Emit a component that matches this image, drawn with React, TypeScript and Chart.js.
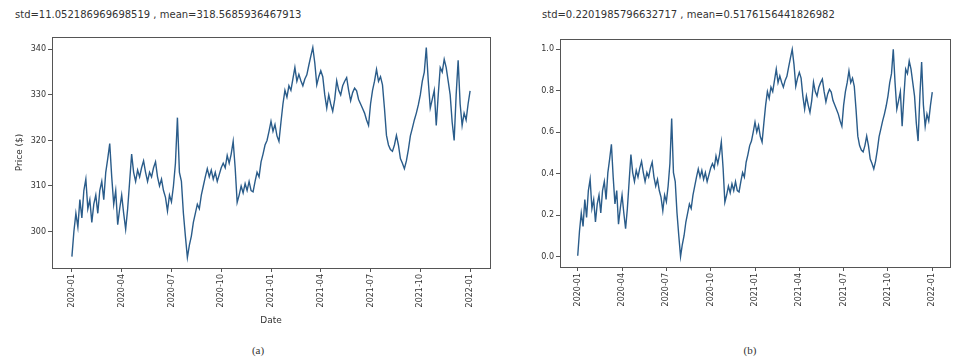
import { useEffect, useRef } from "react";
import { Chart, registerables } from "chart.js";
Chart.register(...registerables);

// Closing prices, one sample roughly every few trading days
const priceValues: number[] = [
  294.5, 300, 304, 301, 307, 303, 309, 311.5, 305, 307,
  302, 306, 308, 304, 309, 311, 307, 313, 316, 319.3,
  312, 306, 309, 301.5, 305, 308, 304, 300.5, 305, 311,
  317, 313, 311, 313.5, 312, 314, 315.5, 313, 311, 313,
  312, 314, 315.3, 312, 310, 311.5, 309, 307.5, 304.5, 308,
  306.5, 310, 315, 325, 313, 311, 304, 299, 294.3, 297,
  299, 302, 304, 306, 305, 308, 310, 312, 313.8, 312,
  313.5, 311.5, 313, 311, 312.5, 314, 315, 314, 316.7, 315,
  317, 319.8, 314, 306.4, 308, 310, 308.5, 310.5, 309, 311,
  309, 308.7, 311, 313, 312, 315.3, 317, 319, 320, 322,
  324.2, 322, 323.5, 321, 319.8, 324, 328, 331, 329.5, 332,
  331, 333.5, 336, 333, 334.5, 333.1, 332, 333.5, 334.4, 336.5,
  338.5, 340.4, 337, 332.2, 334, 335.3, 334, 330, 327.1, 330,
  328, 326.4, 329, 333.1, 331, 330, 332, 333, 333.8, 331,
  328.7, 330.5, 331.5, 330.9, 329, 328, 327, 326, 324.5, 323.3,
  328, 331, 333, 335.6, 333, 334, 332.2, 327, 321.1, 319,
  318, 317.6, 319, 321.1, 319, 316, 315, 313.8, 315.5, 318,
  321, 322.7, 324.5, 326, 327.8, 330, 333, 335, 340.4, 333,
  327.1, 329, 331, 323.3, 330, 336, 335, 337.8, 336, 333,
  330, 324, 320, 330, 337.6, 328, 323.3, 326, 324.5, 328,
  330.9,
];

const xTickPositions: number[] = [0, 25, 50, 75, 100, 125, 150, 175, 200];
const xTickLabels: string[] = [
  "2020-01", "2020-04", "2020-07", "2020-10", "2021-01",
  "2021-04", "2021-07", "2021-10", "2022-01",
];
const priceTicks: number[] = [300, 310, 320, 330, 340];
const normTicks: number[] = [0, 0.2, 0.4, 0.6, 0.8, 1.0];

const titleA = "std=11.052186969698519 , mean=318.5685936467913";
const titleB = "std=0.2201985796632717 , mean=0.5176156441826982";

const minP = Math.min(...priceValues);
const maxP = Math.max(...priceValues);
const normValues = priceValues.map((v) => (v - minP) / (maxP - minP));

const LINE_COLOR = "#2a5c8a";
const AXIS_COLOR = "#555555";
const TEXT_COLOR = "#333333";
const FONT = "'DejaVu Sans', sans-serif";

const framePlugin = {
  id: "frame",
  afterDraw(chart: any) {
    const { ctx, chartArea } = chart;
    const { left, top, right, bottom } = chartArea;
    ctx.save();
    ctx.strokeStyle = AXIS_COLOR;
    ctx.lineWidth = 1;
    ctx.strokeRect(Math.round(left) + 0.5, Math.round(top) + 0.5, Math.round(right - left), Math.round(bottom - top));
    ctx.restore();
  },
};

type Cfg = {
  values: number[];
  yMin: number;
  yMax: number;
  yTicks: number[];
  yFmt: (v: number) => string;
  yTitle?: string;
  xTitle?: string;
  padTop: number;
  padRight: number;
  yWidth: number;
  xHeight: number;
};

function makeConfig(c: Cfg): any {
  return {
    type: "line",
    data: {
      datasets: [
        {
          data: c.values.map((v, i) => ({ x: i, y: v })),
          borderColor: LINE_COLOR,
          borderWidth: 1.4,
          pointRadius: 0,
          tension: 0,
          fill: false,
        },
      ],
    },
    options: {
      animation: false,
      responsive: false,
      devicePixelRatio: 1,
      layout: { padding: { top: c.padTop, right: c.padRight, left: 0, bottom: 0 } },
      plugins: { legend: { display: false }, tooltip: { enabled: false }, title: { display: false } },
      scales: {
        x: {
          type: "linear",
          min: -10,
          max: 210,
          afterBuildTicks: (s: any) => {
            s.ticks = xTickPositions.map((v) => ({ value: v }));
          },
          afterFit: (s: any) => {
            s.height = c.xHeight;
          },
          ticks: {
            autoSkip: false,
            minRotation: 90,
            maxRotation: 90,
            padding: 2,
            color: TEXT_COLOR,
            font: { family: FONT, size: 8 },
            callback: (v: number) => {
              const k = xTickPositions.indexOf(v);
              return k >= 0 ? xTickLabels[k] : "";
            },
          },
          grid: { display: true, drawOnChartArea: false, drawTicks: true, tickLength: 4, color: AXIS_COLOR },
          border: { display: true, color: AXIS_COLOR },
          title: {
            display: !!c.xTitle,
            text: c.xTitle || "",
            color: TEXT_COLOR,
            font: { family: FONT, size: 9 },
            padding: { top: 0, bottom: 4 },
          },
        },
        y: {
          type: "linear",
          min: c.yMin,
          max: c.yMax,
          afterBuildTicks: (s: any) => {
            s.ticks = c.yTicks.map((v) => ({ value: v }));
          },
          afterFit: (s: any) => {
            s.width = c.yWidth;
          },
          ticks: {
            padding: 2,
            color: TEXT_COLOR,
            font: { family: FONT, size: 8 },
            callback: (v: number) => c.yFmt(v),
          },
          grid: { display: true, drawOnChartArea: false, drawTicks: true, tickLength: 4, color: AXIS_COLOR },
          border: { display: true, color: AXIS_COLOR },
          title: {
            display: !!c.yTitle,
            text: c.yTitle || "",
            color: TEXT_COLOR,
            font: { family: FONT, size: 9 },
            padding: { top: 14, bottom: 0 },
          },
        },
      },
    },
    plugins: [framePlugin],
  };
}

export default function App() {
  const refA = useRef<HTMLCanvasElement | null>(null);
  const refB = useRef<HTMLCanvasElement | null>(null);

  useEffect(() => {
    const range = maxP - minP;
    const chartA = new Chart(
      refA.current as HTMLCanvasElement,
      makeConfig({
        values: priceValues,
        yMin: minP - 0.05 * range,
        yMax: maxP + 0.05 * range,
        yTicks: priceTicks,
        yFmt: (v) => String(v),
        yTitle: "Price ($)",
        xTitle: "Date",
        padTop: 37,
        padRight: 5,
        yWidth: 52,
        xHeight: 62,
      })
    );
    const chartB = new Chart(
      refB.current as HTMLCanvasElement,
      makeConfig({
        values: normValues,
        yMin: -0.05,
        yMax: 1.05,
        yTicks: normTicks,
        yFmt: (v) => v.toFixed(1),
        padTop: 39,
        padRight: 5,
        yWidth: 65,
        xHeight: 63,
      })
    );
    return () => {
      chartA.destroy();
      chartB.destroy();
    };
  }, []);

  const textStyle: any = {
    position: "absolute",
    fontFamily: FONT,
    fontSize: 10,
    color: TEXT_COLOR,
    whiteSpace: "nowrap",
    lineHeight: "12px",
  };
  const capStyle: any = {
    position: "absolute",
    fontFamily: "'Liberation Serif', serif",
    fontSize: 11,
    color: TEXT_COLOR,
    lineHeight: "12px",
    transform: "translateX(-50%)",
  };

  return (
    <div style={{ position: "absolute", left: 0, top: 0, width: 955, height: 360, background: "#fff", overflow: "hidden" }}>
      <div style={{ ...textStyle, left: 15, top: 9 }}>{titleA}</div>
      <div style={{ ...textStyle, left: 542, top: 9 }}>{titleB}</div>
      <canvas ref={refA} width={495} height={330} style={{ position: "absolute", left: 0, top: 0 }} />
      <canvas ref={refB} width={460} height={330} style={{ position: "absolute", left: 495, top: 0 }} />
      <div style={{ ...capStyle, left: 258, top: 344 }}>(a)</div>
      <div style={{ ...capStyle, left: 750, top: 344 }}>(b)</div>
    </div>
  );
}
